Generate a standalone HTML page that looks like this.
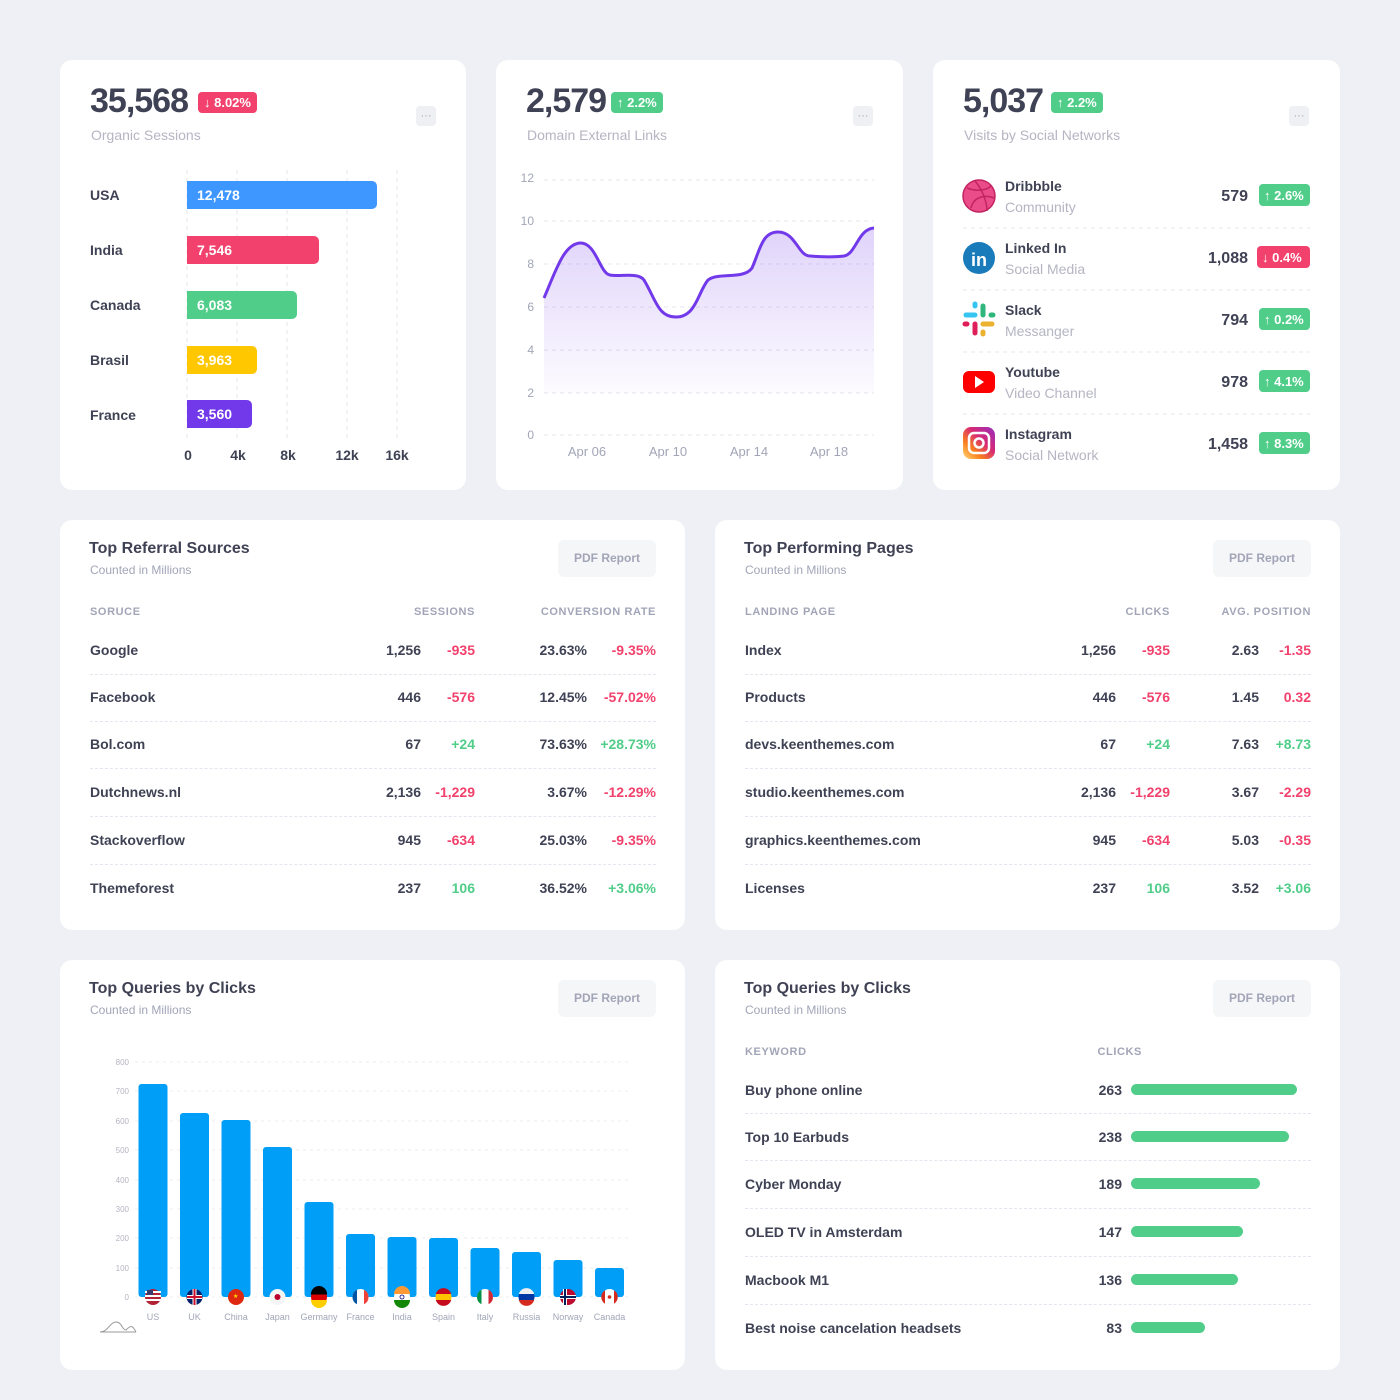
<!DOCTYPE html>
<html><head><meta charset="utf-8"><style>
*{margin:0;padding:0;box-sizing:border-box}
body{width:1400px;height:1400px;background:#eef0f5;font-family:"Liberation Sans",sans-serif;color:#3f4254;position:relative;overflow:hidden}
.c{position:absolute;background:#fff;border-radius:12px}
.a{position:absolute;white-space:nowrap}
.big{font-size:34px;font-weight:bold;color:#3f4254;letter-spacing:-1px}
.sub{font-size:14px;color:#b5b5c3}
.bd{font-size:13px;font-weight:bold;color:#fff;border-radius:4px;padding:3px 6px}
.r{background:#f1416c}.g{background:#50cd89}
.dots{position:absolute;width:20px;height:20px;background:#eff0f4;border-radius:4px;color:#a1a5b7;font-size:11px;text-align:center;line-height:20px}
.t{font-size:16px;font-weight:bold;color:#3f4254}
.ts{font-size:12px;color:#a1a5b7}
.pdf{position:absolute;width:98px;height:37px;background:#f5f6f8;border-radius:6px;color:#a1a5b7;font-size:12px;font-weight:bold;text-align:center;line-height:37px}
.h{font-size:11px;color:#a1a5b7;letter-spacing:0.6px;font-weight:bold}
.n{font-size:14px;font-weight:bold;color:#3f4254}
.red{color:#f1416c;font-size:14px;font-weight:bold}
.grn{color:#50cd89;font-size:14px;font-weight:bold}
.rt{transform:translateX(-100%)}
.line{position:absolute;height:0;border-top:1px dashed #e4e6ef}
</style></head><body>

<!-- Card 1 -->
<div class="c" style="left:60px;top:60px;width:406px;height:430px"></div>
<div class="a big" style="left:90px;top:82px">35,568</div>
<div class="a bd r" style="left:198px;top:92px">↓ 8.02%</div>
<div class="a sub" style="left:91px;top:127px">Organic Sessions</div>
<div class="dots" style="left:416px;top:106px">···</div>
<svg class="a" style="left:60px;top:60px" width="406" height="430">
<g stroke="#e4e6ef" stroke-dasharray="4 4"><line x1="127" y1="110" x2="127" y2="380"/><line x1="177" y1="110" x2="177" y2="380"/><line x1="227" y1="110" x2="227" y2="380"/><line x1="287" y1="110" x2="287" y2="380"/><line x1="337" y1="110" x2="337" y2="380"/></g>
<rect x="127" y="121" width="190" height="28" rx="5" fill="#3e97ff"/><rect x="127" y="121" width="8" height="28" fill="#3e97ff"/>
<rect x="127" y="176" width="132" height="28" rx="5" fill="#f1416c"/><rect x="127" y="176" width="8" height="28" fill="#f1416c"/>
<rect x="127" y="231" width="110" height="28" rx="5" fill="#50cd89"/><rect x="127" y="231" width="8" height="28" fill="#50cd89"/>
<rect x="127" y="286" width="70" height="28" rx="5" fill="#ffc700"/><rect x="127" y="286" width="8" height="28" fill="#ffc700"/>
<rect x="127" y="340" width="65" height="28" rx="5" fill="#7239ea"/><rect x="127" y="340" width="8" height="28" fill="#7239ea"/>
<g font-family="Liberation Sans" font-weight="bold" font-size="14" fill="#fff"><text x="137" y="140">12,478</text><text x="137" y="195">7,546</text><text x="137" y="250">6,083</text><text x="137" y="305">3,963</text><text x="137" y="359">3,560</text></g>
<g font-family="Liberation Sans" font-weight="bold" font-size="14" fill="#3f4254"><text x="30" y="140">USA</text><text x="30" y="195">India</text><text x="30" y="250">Canada</text><text x="30" y="305">Brasil</text><text x="30" y="360">France</text>
<g text-anchor="middle"><text x="128" y="400">0</text><text x="178" y="400">4k</text><text x="228" y="400">8k</text><text x="287" y="400">12k</text><text x="337" y="400">16k</text></g></g>
</svg>

<!-- Card 2 -->
<div class="c" style="left:496px;top:60px;width:407px;height:430px"></div>
<div class="a big" style="left:526px;top:82px">2,579</div>
<div class="a bd g" style="left:611px;top:92px">↑ 2.2%</div>
<div class="a sub" style="left:527px;top:127px">Domain External Links</div>
<div class="dots" style="left:853px;top:106px">···</div>
<svg class="a" style="left:496px;top:60px" width="407" height="430">
<defs><linearGradient id="lg" x1="0" y1="0" x2="0" y2="1"><stop offset="0" stop-color="#7239ea" stop-opacity="0.22"/><stop offset="1" stop-color="#7239ea" stop-opacity="0.02"/></linearGradient></defs>
<g stroke="#e4e6ef" stroke-dasharray="4 4"><line x1="48" y1="120" x2="378" y2="120"/><line x1="48" y1="161" x2="378" y2="161"/><line x1="48" y1="204" x2="378" y2="204"/><line x1="48" y1="247" x2="378" y2="247"/><line x1="48" y1="290" x2="378" y2="290"/><line x1="48" y1="333" x2="378" y2="333"/><line x1="48" y1="375" x2="378" y2="375"/></g>
<path d="M48,238 C60,210 68,184 84,183 C100,182 104,214 114,215 C124,217 142,212 148,220 C160,240 162,257 180,257 C200,257 202,232 212,220 C222,212 248,220 256,208 C264,190 266,172 282,172 C300,172 302,196 314,196 C326,197 340,197 348,196 C360,194 362,169 378,168 L378,333 L48,333 Z" fill="url(#lg)"/>
<path d="M48,238 C60,210 68,184 84,183 C100,182 104,214 114,215 C124,217 142,212 148,220 C160,240 162,257 180,257 C200,257 202,232 212,220 C222,212 248,220 256,208 C264,190 266,172 282,172 C300,172 302,196 314,196 C326,197 340,197 348,196 C360,194 362,169 378,168" fill="none" stroke="#7239ea" stroke-width="3"/>
<g font-family="Liberation Sans" font-size="12" fill="#a1a5b7" text-anchor="end"><text x="38" y="122">12</text><text x="38" y="165">10</text><text x="38" y="208">8</text><text x="38" y="251">6</text><text x="38" y="294">4</text><text x="38" y="337">2</text><text x="38" y="379">0</text></g>
<g font-family="Liberation Sans" font-size="13" fill="#a1a5b7" text-anchor="middle"><text x="91" y="396">Apr 06</text><text x="172" y="396">Apr 10</text><text x="253" y="396">Apr 14</text><text x="333" y="396">Apr 18</text></g>
</svg>

<!-- Card 3 -->
<div class="c" style="left:933px;top:60px;width:407px;height:430px"></div>
<div class="a big" style="left:963px;top:82px">5,037</div>
<div class="a bd g" style="left:1051px;top:92px">↑ 2.2%</div>
<div class="a sub" style="left:964px;top:127px">Visits by Social Networks</div>
<div class="dots" style="left:1289px;top:106px">···</div>
<svg class="a" style="left:933px;top:60px" width="407" height="430">
<g stroke="#e4e6ef" stroke-dasharray="4 4"><line x1="30" y1="168" x2="377" y2="168"/><line x1="30" y1="230" x2="377" y2="230"/><line x1="30" y1="292" x2="377" y2="292"/><line x1="30" y1="354" x2="377" y2="354"/></g>
<circle cx="46" cy="136" r="16" fill="#ea4c89" stroke="#c32361" stroke-width="1.5"/><path d="M34,128 C44,132 54,130 58,126 M38,148 C40,138 50,134 61,138 M42,121 C48,128 54,140 54,151" stroke="#c32361" stroke-width="1.5" fill="none"/>
<circle cx="46" cy="198" r="16" fill="#1a7bba"/><text x="46" y="206" text-anchor="middle" font-family="Liberation Sans" font-weight="bold" font-size="18" fill="#fff">in</text>
<g stroke-linecap="round" stroke-width="5"><line x1="33" y1="255" x2="42" y2="255" stroke="#36c5f0"/><line x1="50" y1="246" x2="50" y2="255" stroke="#2eb67d"/><line x1="50" y1="264" x2="59" y2="264" stroke="#ecb22e"/><line x1="42" y1="264" x2="42" y2="273" stroke="#e01e5a"/><line x1="42" y1="244" x2="42" y2="246" stroke="#36c5f0"/><line x1="58" y1="255" x2="60" y2="255" stroke="#2eb67d"/><line x1="50" y1="272" x2="50" y2="274" stroke="#ecb22e"/><line x1="32" y1="264" x2="34" y2="264" stroke="#e01e5a"/></g>
<rect x="30" y="311" width="32" height="22" rx="6" fill="#ff0000"/><path d="M42,316 L51,322 L42,328 Z" fill="#fff"/>
<defs><linearGradient id="ig" x1="0" y1="1" x2="1" y2="0"><stop offset="0" stop-color="#feda75"/><stop offset="0.3" stop-color="#fa7e1e"/><stop offset="0.6" stop-color="#d62976"/><stop offset="1" stop-color="#962fbf"/></linearGradient></defs>
<rect x="30" y="367" width="32" height="32" rx="8" fill="url(#ig)"/><rect x="36" y="373" width="20" height="20" rx="5" fill="none" stroke="#fff" stroke-width="2.5"/><circle cx="46" cy="383" r="4.5" fill="none" stroke="#fff" stroke-width="2.5"/>
<g font-family="Liberation Sans" font-size="14"><g font-weight="bold" fill="#3f4254"><text x="72" y="131">Dribbble</text><text x="72" y="193">Linked In</text><text x="72" y="255">Slack</text><text x="72" y="317">Youtube</text><text x="72" y="379">Instagram</text>
<g text-anchor="end" font-size="16"><text x="315" y="141">579</text><text x="315" y="203">1,088</text><text x="315" y="265">794</text><text x="315" y="327">978</text><text x="315" y="389">1,458</text></g></g>
<g fill="#b5b5c3"><text x="72" y="152">Community</text><text x="72" y="214">Social Media</text><text x="72" y="276">Messanger</text><text x="72" y="338">Video Channel</text><text x="72" y="400">Social Network</text></g></g>
<g><rect x="326" y="124" width="51" height="22" rx="4" fill="#50cd89"/><rect x="324" y="186" width="53" height="22" rx="4" fill="#f1416c"/><rect x="326" y="248" width="51" height="22" rx="4" fill="#50cd89"/><rect x="326" y="310" width="51" height="22" rx="4" fill="#50cd89"/><rect x="326" y="372" width="51" height="22" rx="4" fill="#50cd89"/></g>
<g font-family="Liberation Sans" font-size="13" font-weight="bold" fill="#fff"><text x="331" y="140">↑ 2.6%</text><text x="329" y="202">↓ 0.4%</text><text x="331" y="264">↑ 0.2%</text><text x="331" y="326">↑ 4.1%</text><text x="331" y="388">↑ 8.3%</text></g>
</svg>

<!-- Card 4 -->
<div class="c" style="left:60px;top:520px;width:625px;height:410px"></div>
<div class="a t" style="left:89px;top:540px">Top Referral Sources</div>
<div class="a ts" style="left:90px;top:563px">Counted in Millions</div>
<div class="pdf" style="left:558px;top:540px">PDF Report</div>
<div class="a h" style="left:90px;top:606px">SORUCE</div>
<div class="a h rt" style="left:475px;top:606px">SESSIONS</div>
<div class="a h rt" style="left:656px;top:606px">CONVERSION RATE</div>

<!-- Card 5 -->
<div class="c" style="left:715px;top:520px;width:625px;height:410px"></div>
<div class="a t" style="left:744px;top:540px">Top Performing Pages</div>
<div class="a ts" style="left:745px;top:563px">Counted in Millions</div>
<div class="pdf" style="left:1213px;top:540px">PDF Report</div>
<div class="a h" style="left:745px;top:606px">LANDING PAGE</div>
<div class="a h rt" style="left:1170px;top:606px">CLICKS</div>
<div class="a h rt" style="left:1311px;top:606px">AVG. POSITION</div>

<div class="line" style="left:90px;top:674px;width:566px"></div><div class="line" style="left:90px;top:721px;width:566px"></div><div class="line" style="left:90px;top:768px;width:566px"></div><div class="line" style="left:90px;top:816px;width:566px"></div><div class="line" style="left:90px;top:864px;width:566px"></div>
<div class="line" style="left:745px;top:674px;width:566px"></div><div class="line" style="left:745px;top:721px;width:566px"></div><div class="line" style="left:745px;top:768px;width:566px"></div><div class="line" style="left:745px;top:816px;width:566px"></div><div class="line" style="left:745px;top:864px;width:566px"></div>

<div class="a n" style="left:90px;top:642px">Google</div><div class="a n rt" style="left:421px;top:642px">1,256</div><div class="a red rt" style="left:475px;top:642px">-935</div><div class="a n rt" style="left:587px;top:642px">23.63%</div><div class="a red rt" style="left:656px;top:642px">-9.35%</div>
<div class="a n" style="left:90px;top:689px">Facebook</div><div class="a n rt" style="left:421px;top:689px">446</div><div class="a red rt" style="left:475px;top:689px">-576</div><div class="a n rt" style="left:587px;top:689px">12.45%</div><div class="a red rt" style="left:656px;top:689px">-57.02%</div>
<div class="a n" style="left:90px;top:736px">Bol.com</div><div class="a n rt" style="left:421px;top:736px">67</div><div class="a grn rt" style="left:475px;top:736px">+24</div><div class="a n rt" style="left:587px;top:736px">73.63%</div><div class="a grn rt" style="left:656px;top:736px">+28.73%</div>
<div class="a n" style="left:90px;top:784px">Dutchnews.nl</div><div class="a n rt" style="left:421px;top:784px">2,136</div><div class="a red rt" style="left:475px;top:784px">-1,229</div><div class="a n rt" style="left:587px;top:784px">3.67%</div><div class="a red rt" style="left:656px;top:784px">-12.29%</div>
<div class="a n" style="left:90px;top:832px">Stackoverflow</div><div class="a n rt" style="left:421px;top:832px">945</div><div class="a red rt" style="left:475px;top:832px">-634</div><div class="a n rt" style="left:587px;top:832px">25.03%</div><div class="a red rt" style="left:656px;top:832px">-9.35%</div>
<div class="a n" style="left:90px;top:880px">Themeforest</div><div class="a n rt" style="left:421px;top:880px">237</div><div class="a grn rt" style="left:475px;top:880px">106</div><div class="a n rt" style="left:587px;top:880px">36.52%</div><div class="a grn rt" style="left:656px;top:880px">+3.06%</div>

<div class="a n" style="left:745px;top:642px">Index</div><div class="a n rt" style="left:1116px;top:642px">1,256</div><div class="a red rt" style="left:1170px;top:642px">-935</div><div class="a n rt" style="left:1259px;top:642px">2.63</div><div class="a red rt" style="left:1311px;top:642px">-1.35</div>
<div class="a n" style="left:745px;top:689px">Products</div><div class="a n rt" style="left:1116px;top:689px">446</div><div class="a red rt" style="left:1170px;top:689px">-576</div><div class="a n rt" style="left:1259px;top:689px">1.45</div><div class="a red rt" style="left:1311px;top:689px">0.32</div>
<div class="a n" style="left:745px;top:736px">devs.keenthemes.com</div><div class="a n rt" style="left:1116px;top:736px">67</div><div class="a grn rt" style="left:1170px;top:736px">+24</div><div class="a n rt" style="left:1259px;top:736px">7.63</div><div class="a grn rt" style="left:1311px;top:736px">+8.73</div>
<div class="a n" style="left:745px;top:784px">studio.keenthemes.com</div><div class="a n rt" style="left:1116px;top:784px">2,136</div><div class="a red rt" style="left:1170px;top:784px">-1,229</div><div class="a n rt" style="left:1259px;top:784px">3.67</div><div class="a red rt" style="left:1311px;top:784px">-2.29</div>
<div class="a n" style="left:745px;top:832px">graphics.keenthemes.com</div><div class="a n rt" style="left:1116px;top:832px">945</div><div class="a red rt" style="left:1170px;top:832px">-634</div><div class="a n rt" style="left:1259px;top:832px">5.03</div><div class="a red rt" style="left:1311px;top:832px">-0.35</div>
<div class="a n" style="left:745px;top:880px">Licenses</div><div class="a n rt" style="left:1116px;top:880px">237</div><div class="a grn rt" style="left:1170px;top:880px">106</div><div class="a n rt" style="left:1259px;top:880px">3.52</div><div class="a grn rt" style="left:1311px;top:880px">+3.06</div>

<!-- Card 6 -->
<div class="c" style="left:60px;top:960px;width:625px;height:410px"></div>
<div class="a t" style="left:89px;top:980px">Top Queries by Clicks</div>
<div class="a ts" style="left:90px;top:1003px">Counted in Millions</div>
<div class="pdf" style="left:558px;top:980px">PDF Report</div>
<svg class="a" style="left:60px;top:960px" width="625" height="410">
<g stroke="#eceef3" stroke-dasharray="3 4"><line x1="75" y1="102" x2="570" y2="102"/><line x1="75" y1="131" x2="570" y2="131"/><line x1="75" y1="161" x2="570" y2="161"/><line x1="75" y1="190" x2="570" y2="190"/><line x1="75" y1="220" x2="570" y2="220"/><line x1="75" y1="249" x2="570" y2="249"/><line x1="75" y1="278" x2="570" y2="278"/><line x1="75" y1="308" x2="570" y2="308"/><line x1="75" y1="337" x2="570" y2="337"/></g>
<g font-family="Liberation Sans" font-size="8" fill="#b5b5c3" text-anchor="end"><text x="69" y="105">800</text><text x="69" y="134">700</text><text x="69" y="164">600</text><text x="69" y="193">500</text><text x="69" y="223">400</text><text x="69" y="252">300</text><text x="69" y="281">200</text><text x="69" y="311">100</text><text x="69" y="340">0</text></g>
<g fill="#009ef7">
<rect x="78.5" y="124" width="29" height="213" rx="3"/><rect x="120" y="153" width="29" height="184" rx="3"/><rect x="161.5" y="160" width="29" height="177" rx="3"/><rect x="203" y="187" width="29" height="150" rx="3"/><rect x="244.5" y="242" width="29" height="95" rx="3"/><rect x="286" y="274" width="29" height="63" rx="3"/><rect x="327.5" y="277" width="29" height="60" rx="3"/><rect x="369" y="278" width="29" height="59" rx="3"/><rect x="410.5" y="288" width="29" height="49" rx="3"/><rect x="452" y="292" width="29" height="45" rx="3"/><rect x="493.5" y="300" width="29" height="37" rx="3"/><rect x="535" y="308" width="29" height="29" rx="3"/></g>
<g>
<circle cx="93" cy="337" r="8" fill="#b22234"/><rect x="85" y="331" width="16" height="2" fill="#fff"/><rect x="85" y="335" width="16" height="2" fill="#fff"/><rect x="85" y="339" width="16" height="2" fill="#fff"/><rect x="87" y="330" width="6" height="5" fill="#3c3b6e"/>
<circle cx="134.5" cy="337" r="8" fill="#012169"/><path d="M127,337 H142 M134.5,329 V345" stroke="#fff" stroke-width="4"/><path d="M127,337 H142 M134.5,329 V345" stroke="#c8102e" stroke-width="2"/>
<circle cx="176" cy="337" r="8" fill="#de2910"/><text x="173" y="338" font-size="6" fill="#ffde00">★</text>
<circle cx="217.5" cy="337" r="8" fill="#f5f5f5"/><circle cx="217.5" cy="337" r="3" fill="#bc002d"/>
<circle cx="259" cy="337" r="8" fill="#dd0000"/><path d="M251,334 A8,8 0 0 1 267,334 Z" fill="#000"/><path d="M251,340 A8,8 0 0 0 267,340 Z" fill="#ffce00"/><rect x="251" y="333" width="16" height="1.5" fill="#000"/>
<circle cx="300.5" cy="337" r="8" fill="#fff"/><path d="M297,329.8 A8,8 0 0 0 297,344.2 Z" fill="#0055a4"/><path d="M304,329.8 A8,8 0 0 1 304,344.2 Z" fill="#ef4135"/>
<circle cx="342" cy="337" r="8" fill="#fff"/><path d="M334,334 A8,8 0 0 1 350,334 Z" fill="#ff9933"/><path d="M334,340 A8,8 0 0 0 350,340 Z" fill="#138808"/><circle cx="342" cy="337" r="2" fill="none" stroke="#000080" stroke-width="0.8"/>
<circle cx="383.5" cy="337" r="8" fill="#ffc400"/><path d="M375.8,334 A8,8 0 0 1 391.2,334 Z" fill="#c60b1e"/><path d="M375.8,340 A8,8 0 0 0 391.2,340 Z" fill="#c60b1e"/>
<circle cx="425" cy="337" r="8" fill="#fff"/><path d="M421.5,329.8 A8,8 0 0 0 421.5,344.2 Z" fill="#009246"/><path d="M428.5,329.8 A8,8 0 0 1 428.5,344.2 Z" fill="#ce2b37"/>
<circle cx="466.5" cy="337" r="8" fill="#0039a6"/><path d="M458.8,334 A8,8 0 0 1 474.2,334 Z" fill="#f0f0f0"/><path d="M458.8,340 A8,8 0 0 0 474.2,340 Z" fill="#d52b1e"/>
<circle cx="508" cy="337" r="8" fill="#ba0c2f"/><path d="M500,337 H516 M505,329 V345" stroke="#fff" stroke-width="4"/><path d="M500,337 H516 M505,329 V345" stroke="#00205b" stroke-width="2"/>
<circle cx="549.5" cy="337" r="8" fill="#fff"/><path d="M545,330.2 A8,8 0 0 0 545,343.8 Z" fill="#d52b1e"/><path d="M554,330.2 A8,8 0 0 1 554,343.8 Z" fill="#d52b1e"/><circle cx="549.5" cy="337" r="1.8" fill="#d52b1e"/>
</g>
<g font-family="Liberation Sans" font-size="9" fill="#a1a5b7" text-anchor="middle"><text x="93" y="360">US</text><text x="134.5" y="360">UK</text><text x="176" y="360">China</text><text x="217.5" y="360">Japan</text><text x="259" y="360">Germany</text><text x="300.5" y="360">France</text><text x="342" y="360">India</text><text x="383.5" y="360">Spain</text><text x="425" y="360">Italy</text><text x="466.5" y="360">Russia</text><text x="508" y="360">Norway</text><text x="549.5" y="360">Canada</text></g>
<path d="M40,372 C48,372 50,362 56,362 C62,362 62,370 66,370 C70,366 72,364 76,372 L76,372" fill="none" stroke="#999" stroke-width="1"/><line x1="40" y1="372" x2="76" y2="372" stroke="#999"/>
</svg>

<!-- Card 7 -->
<div class="c" style="left:715px;top:960px;width:625px;height:410px"></div>
<div class="a t" style="left:744px;top:980px">Top Queries by Clicks</div>
<div class="a ts" style="left:745px;top:1003px">Counted in Millions</div>
<div class="pdf" style="left:1213px;top:980px">PDF Report</div>
<div class="a h" style="left:745px;top:1046px">KEYWORD</div>
<div class="a h rt" style="left:1142px;top:1046px">CLICKS</div>
<div class="line" style="left:745px;top:1113px;width:566px"></div><div class="line" style="left:745px;top:1160px;width:566px"></div><div class="line" style="left:745px;top:1208px;width:566px"></div><div class="line" style="left:745px;top:1256px;width:566px"></div><div class="line" style="left:745px;top:1304px;width:566px"></div>
<div class="a n" style="left:745px;top:1082px">Buy phone online</div><div class="a n rt" style="left:1122px;top:1082px">263</div><div class="a" style="left:1131px;top:1084px;width:166px;height:11px;background:#50cd89;border-radius:6px"></div>
<div class="a n" style="left:745px;top:1129px">Top 10 Earbuds</div><div class="a n rt" style="left:1122px;top:1129px">238</div><div class="a" style="left:1131px;top:1131px;width:158px;height:11px;background:#50cd89;border-radius:6px"></div>
<div class="a n" style="left:745px;top:1176px">Cyber Monday</div><div class="a n rt" style="left:1122px;top:1176px">189</div><div class="a" style="left:1131px;top:1178px;width:129px;height:11px;background:#50cd89;border-radius:6px"></div>
<div class="a n" style="left:745px;top:1224px">OLED TV in Amsterdam</div><div class="a n rt" style="left:1122px;top:1224px">147</div><div class="a" style="left:1131px;top:1226px;width:112px;height:11px;background:#50cd89;border-radius:6px"></div>
<div class="a n" style="left:745px;top:1272px">Macbook M1</div><div class="a n rt" style="left:1122px;top:1272px">136</div><div class="a" style="left:1131px;top:1274px;width:107px;height:11px;background:#50cd89;border-radius:6px"></div>
<div class="a n" style="left:745px;top:1320px">Best noise cancelation headsets</div><div class="a n rt" style="left:1122px;top:1320px">83</div><div class="a" style="left:1131px;top:1322px;width:74px;height:11px;background:#50cd89;border-radius:6px"></div>
</body></html>
